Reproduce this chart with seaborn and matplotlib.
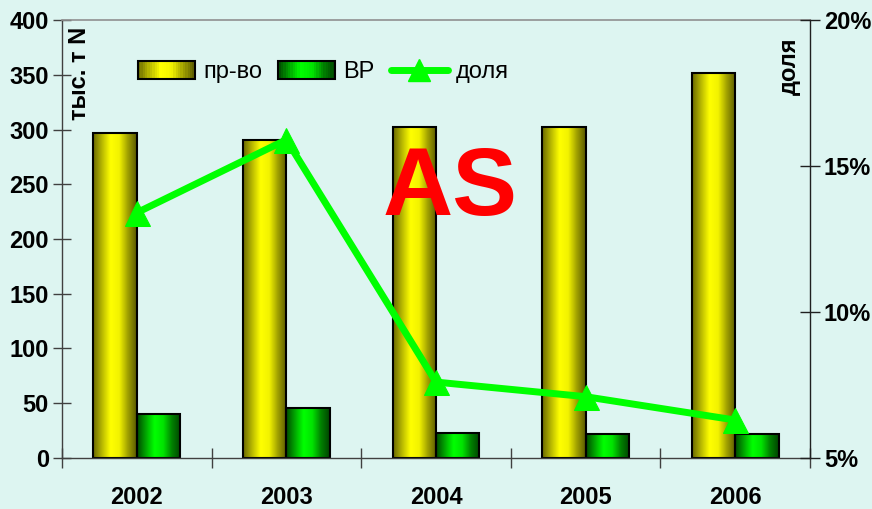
import numpy as np
import pandas as pd
import matplotlib
matplotlib.use("Agg")
import matplotlib.pyplot as plt
import seaborn as sns
from matplotlib.colors import LinearSegmentedColormap
from matplotlib.legend_handler import HandlerBase
from matplotlib.patches import Rectangle
from matplotlib.lines import Line2D
from matplotlib.ticker import FuncFormatter, MultipleLocator, FixedLocator

years = ["2002", "2003", "2004", "2005", "2006"]
production = [297, 290, 302, 302, 352]   # пр-во, тыс. т N
vr = [40, 46, 23, 21.5, 22]              # ВР, тыс. т N
share = [13.4, 15.9, 7.6, 7.1, 6.3]      # доля, %

BG = "#DDF5F1"
LINE_GREEN = "#00FF00"
yellow_cmap = LinearSegmentedColormap.from_list(
    "yel", ["#6A6A00", "#B8B800", "#FFFF00", "#F2F200", "#A0A000", "#5A5A00"])
green_cmap = LinearSegmentedColormap.from_list(
    "grn", ["#004A00", "#00A800", "#00FF00", "#00E400", "#008200", "#004400"])


class GradientHandler(HandlerBase):
    def __init__(self, cmap):
        super().__init__()
        self.cmap = cmap

    def create_artists(self, legend, orig_handle, xdescent, ydescent,
                       width, height, fontsize, trans):
        n = 24
        arts = []
        for i in range(n):
            arts.append(Rectangle((-xdescent + width * i / n, -ydescent), width / n, height,
                                  facecolor=self.cmap((i + 0.5) / n), edgecolor="none",
                                  transform=trans))
        arts.append(Rectangle((-xdescent, -ydescent), width, height, facecolor="none",
                              edgecolor="black", lw=1.5, transform=trans))
        return arts


sns.set_theme(style="white")
plt.rcParams["font.family"] = ["Liberation Sans", "DejaVu Sans"]
plt.rcParams["text.color"] = "black"
plt.rcParams["xtick.color"] = "black"
plt.rcParams["ytick.color"] = "black"

fig = plt.figure(figsize=(8.72, 5.09), dpi=100, facecolor=BG)
ax = fig.add_axes([0.0711, 0.1002, 0.8578, 0.8605])
ax.set_facecolor(BG)

df = pd.DataFrame({
    "year": years * 2,
    "value": production + vr,
    "series": ["пр-во"] * len(years) + ["ВР"] * len(years),
})
sns.barplot(data=df, x="year", y="value", hue="series",
            palette=["#FFFF00", "#00FF00"], saturation=1, width=0.58, gap=0,
            edgecolor="black", linewidth=1.5, legend=False, ax=ax)

# cylinder-like shading of the bars
grad = np.linspace(0, 1, 64).reshape(1, -1)
for p in list(ax.patches):
    fc = p.get_facecolor()
    cmap = yellow_cmap if fc[0] > 0.5 else green_cmap
    x, y, w, h = p.get_x(), p.get_y(), p.get_width(), p.get_height()
    ax.imshow(grad, cmap=cmap, extent=[x, x + w, y, y + h], aspect="auto",
              zorder=1.5, interpolation="bilinear")
    p.set_facecolor("none")
    p.set_zorder(2)

ax.set_xlim(-0.5, 4.5)
ax.set_ylim(0, 400)
ax.yaxis.set_major_locator(MultipleLocator(50))
ax.xaxis.set_minor_locator(FixedLocator(np.arange(-0.5, 5, 1)))
ax.tick_params(axis="y", which="major", left=True, direction="inout", length=13,
               width=1, color="#404040", labelcolor="black", labelsize=17, pad=3)
ax.tick_params(axis="x", which="major", length=0, labelsize=17, labelcolor="black", pad=20)
ax.tick_params(axis="x", which="minor", bottom=True, direction="inout", length=14,
               width=1, color="#404040")
for lbl in ax.get_xticklabels() + ax.get_yticklabels():
    lbl.set_fontweight("bold")
ax.set_xlabel("")
ax.set_ylabel("")
for s in ["left", "bottom"]:
    ax.spines[s].set_color("#404040")
    ax.spines[s].set_linewidth(1)
ax.spines["top"].set_color("#909090")
ax.spines["top"].set_linewidth(1.2)
ax.spines["right"].set_visible(False)

ax2 = ax.twinx()
sns.lineplot(x=np.arange(len(years)), y=share, ax=ax2, color=LINE_GREEN, linewidth=5,
             marker="^", markersize=18, markeredgecolor=LINE_GREEN, legend=False)
ax2.set_ylim(5, 20)
ax2.yaxis.set_major_locator(FixedLocator([5, 10, 15, 20]))
ax2.yaxis.set_major_formatter(FuncFormatter(lambda v, _: f"{v:.0f}%"))
ax2.tick_params(axis="y", right=True, direction="inout", length=14, width=1,
                color="#202020", labelcolor="black", labelsize=17, pad=3)
for lbl in ax2.get_yticklabels():
    lbl.set_fontweight("bold")
ax2.set_ylabel("")
for s in ["left", "top", "bottom"]:
    ax2.spines[s].set_visible(False)
ax2.spines["right"].set_color("#202020")
ax2.spines["right"].set_linewidth(1)
ax2.set_xlim(-0.5, 4.5)

ax.text(0.024, 0.985, "тыс. т N", transform=ax.transAxes, rotation=90,
        ha="center", va="top", fontsize=17, fontweight="bold")
ax.text(0.972, 0.96, "доля", transform=ax.transAxes, rotation=90,
        ha="center", va="top", fontsize=17, fontweight="bold")
ax2.text(0.519, 0.555, "AS", transform=ax.transAxes, ha="center", va="baseline",
         fontsize=70, fontweight="bold", color="#FF0000", zorder=5)

h1 = Rectangle((0, 0), 1, 1)
h2 = Rectangle((0, 0), 1, 1)
h3 = Line2D([], [], color=LINE_GREEN, lw=5, marker="^", markersize=16,
            markeredgecolor=LINE_GREEN)
ax2.legend([h1, h2, h3], ["пр-во", "ВР", "доля"],
           handler_map={h1: GradientHandler(yellow_cmap), h2: GradientHandler(green_cmap)},
           loc="center left", bbox_to_anchor=(0.1016, 0.881), ncol=3, frameon=False,
           fontsize=17, handlelength=2.4, handleheight=0.75, handletextpad=0.35,
           columnspacing=0.7, borderpad=0, borderaxespad=0)

plt.savefig("out.png", dpi=100, facecolor=BG)
plt.close()
